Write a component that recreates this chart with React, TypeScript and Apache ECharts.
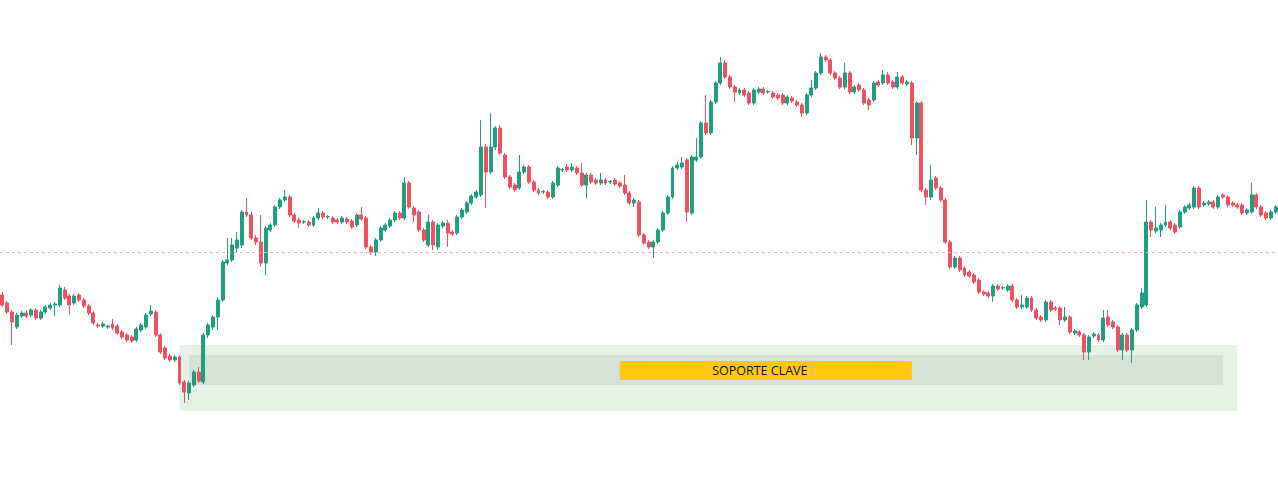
import React, { useEffect, useRef } from "react";
import * as echarts from "echarts";

// Candles as [open, close, low, high] (price index)
const ohlc: number[][] = [
  [205,195,193,208],[197,188,186,199],[188,178,155,190],[173,185,171,187],[184,187,182,189],
  [187,184,182,190],[185,190,183,192],[190,182,180,192],[182,188,180,190],[188,193,186,195],
  [192,195,190,197],[195,196,184,198],[195,212,193,215],[210,202,200,213],[204,195,185,206],
  [197,204,195,206],[205,200,198,207],[200,194,192,202],[194,187,185,196],[187,177,175,189],
  [175,174,172,177],[174,176,172,178],[173,174,171,175],[176,172,170,181],[174,167,165,176],
  [168,163,161,170],[165,160,158,167],[163,159,157,165],[160,171,158,173],[170,175,168,177],
  [173,185,171,187],[186,189,184,195],[188,165,163,190],[165,148,146,167],[152,142,140,154],
  [144,140,138,146],[140,143,138,145],[143,117,115,145],[118,108,97,120],[107,117,100,119],
  [115,128,113,130],[128,119,117,133],[118,165,116,167],[165,175,162,177],[173,183,170,185],
  [183,200,170,203],[200,238,198,240],[237,240,235,262],[240,255,238,262],[252,260,248,268],
  [255,288,252,290],[288,285,283,302],[285,262,260,288],[262,258,255,265],[258,237,233,285],
  [237,272,225,274],[270,275,268,277],[275,293,273,295],[293,300,291,302],[300,303,298,310],
  [303,285,283,305],[285,279,277,287],[280,277,272,282],[278,278.5,276,280],[278,275,273,280],
  [275,282,273,284],[282,287,280,292],[287,283,281,289],[283,283.5,281,285],[282,278,276,284],
  [280,278,276,282],[278,282,276,284],[281,278,276,283],[279,273,271,281],[275,285,273,287],
  [285,281,279,293],[282,253,251,284],[253,248,245,255],[248,260,244,262],[260,272,258,274],
  [270,275,268,277],[274,280,272,282],[280,287,278,289],[287,282,280,289],[282,317,280,323],
  [317,293,291,319],[292,285,278,294],[288,270,268,290],[270,260,258,272],[255,278,253,285],
  [278,255,250,280],[253,275,250,277],[274,277,272,279],[277,267,253,280],[268,266,264,270],
  [267,283,265,285],[283,290,281,292],[288,297,286,299],[297,304,295,306],[303,308,301,310],
  [305,353,303,380],[353,328,292,356],[328,353,326,387],[353,372,350,374],[372,347,345,375],
  [345,323,321,347],[323,313,311,325],[315,310,308,317],[312,328,310,345],[328,333,326,335],
  [333,318,316,335],[318,310,308,320],[310,307,305,312],[308,308.5,306,310],[308,303,301,310],
  [303,317,301,319],[315,332,313,334],[330,330.5,328,332],[333,330,328,336],[330,333,328,337],
  [332,327,325,334],[327,315,313,337],[315,325,302,327],[325,318,316,327],[320,317,315,322],
  [317,320,315,327],[320,317,315,322],[318,318.5,316,320],[320,316,314,322],[317,314,312,319],
  [315,307,305,325],[307,297,295,309],[297,300,293,302],[298,265,263,300],[265,257,255,267],
  [258,253,251,260],[253,258,242,260],[258,270,256,272],[270,287,268,289],[287,303,285,305],
  [303,332,301,334],[332,335,330,338],[333,337,331,343],[340,288,278,342],[287,343,285,345],
  [340,343,338,362],[343,377,341,379],[377,367,365,405],[367,398,365,400],[398,417,396,419],
  [417,437,415,443],[437,423,421,440],[423,413,411,425],[413,408,398,415],[407,410,405,412],
  [410,405,403,412],[407,397,395,409],[397,410,395,412],[408,411,406,413],[411,407,405,413],
  [408,408.5,406,410],[407,403,401,409],[405,402,400,407],[405,397,395,407],[397,403,395,405],
  [402,399,397,404],[398,395,393,400],[395,387,383,397],[387,405,385,407],[405,412,403,420],
  [412,427,410,429],[427,443,425,447],[443,440,438,445],[440,427,425,442],[427,422,420,429],
  [422,413,411,424],[413,427,411,437],[427,408,406,429],[408,413,406,415],[415,410,408,417],
  [410,397,395,412],[400,395,390,402],[400,417,398,419],[418,415,413,420],[417,425,415,430],
  [425,417,415,428],[418,413,411,420],[413,423,411,428],[423,417,415,425],[416,418,414,420],
  [417,362,355,419],[362,397,345,399],[397,310,308,399],[310,303,295,312],[303,320,300,335],
  [322,312,310,324],[312,300,298,314],[300,258,256,302],[258,233,231,260],[233,242,231,244],
  [242,230,228,244],[232,225,223,234],[228,224,222,230],[225,218,216,227],[220,208,206,222],
  [208,206,204,210],[207,204,202,209],[204,214,198,216],[214,211,209,216],[212,212.5,210,214],
  [210,214,208,216],[214,200,198,216],[200,193,191,202],[193,195,191,205],[193,202,191,204],
  [202,190,188,204],[190,182,180,192],[183,180,178,185],[180,198,178,200],[198,190,188,200],
  [192,191,189,194],[192,180,175,194],[180,183,178,193],[183,168,166,185],[167,169,165,171],
  [168,165,163,170],[165,148,140,167],[148,163,140,165],[164,166,162,168],[165,160,158,167],
  [160,182,158,190],[183,175,173,190],[178,173,171,180],[173,150,148,175],[150,165,140,167],
  [165,150,148,167],[150,170,137,172],[170,195,168,197],[193,207,191,212],[195,278,193,300],
  [278,270,263,280],[269,272,267,293],[270,275,263,277],[275,278,273,295],[278,272,270,280],
  [275,268,266,277],[273,288,271,290],[288,293,286,295],[292,295,290,297],[293,312,291,314],
  [312,293,291,314],[295,297,293,299],[296,298,294,300],[298,293,291,300],[293,303,291,305],
  [305,303,301,307],[303,295,293,305],[297,295,293,299],[295,293,291,297],[295,287,285,297],
  [287,290,285,292],[288,305,286,317],[305,293,291,307],[293,285,283,295],[287,282,280,289],
  [282,288,280,290],[288,293,286,295],
];

const categories: string[] = ohlc.map((_, i) => `D${i + 1}`);

// Reference (dashed) price level
const refLevel = 248;
// Support zone: [startIndex, endIndex, lowPrice, highPrice]
const outerZone = [37, 258, 89, 155];
const innerZone = [39, 255, 115, 145];
const labelZone = [129, 190, 120, 139];
const labelText = "SOPORTE CLAVE";

const UP = "#1f9e80";
const DOWN = "#ef5160";

export default function App() {
  const ref = useRef<HTMLDivElement>(null);
  useEffect(() => {
    if (!ref.current) return;
    const chart = echarts.init(ref.current, undefined, { renderer: "svg" });
    chart.setOption({
      animation: false,
      backgroundColor: "#ffffff",
      grid: { left: 0, right: 0, top: 0, bottom: 0 },
      xAxis: {
        type: "category",
        data: categories,
        boundaryGap: true,
        show: false,
      },
      yAxis: {
        type: "value",
        min: 3,
        max: 500,
        show: false,
        splitLine: { show: false },
      },
      series: [
        {
          type: "candlestick",
          data: ohlc,
          barWidth: "72%",
          itemStyle: {
            color: UP,
            color0: DOWN,
            borderColor: UP,
            borderColor0: DOWN,
            borderWidth: 1,
          },
          markLine: {
            silent: true,
            symbol: "none",
            label: { show: false },
            lineStyle: { color: "#f6aab1", type: [3, 3], width: 1 },
            data: [{ yAxis: refLevel }],
          },
          markArea: {
            silent: true,
            data: [
              [
                { xAxis: outerZone[0], yAxis: outerZone[2], itemStyle: { color: "#e6f2e6", opacity: 1 } },
                { xAxis: outerZone[1], yAxis: outerZone[3] },
              ],
              [
                { xAxis: innerZone[0], yAxis: innerZone[2], itemStyle: { color: "#d4e2d7", opacity: 1 } },
                { xAxis: innerZone[1], yAxis: innerZone[3] },
              ],
              [
                {
                  xAxis: labelZone[0],
                  yAxis: labelZone[2],
                  itemStyle: { color: "#fec80f", opacity: 1 },
                  label: {
                    show: true,
                    position: "inside",
                    formatter: labelText,
                    color: "#111111",
                    fontSize: 12.5,
                    fontFamily: "Open Sans",
                    offset: [-6, 0],
                  },
                },
                { xAxis: labelZone[1], yAxis: labelZone[3] },
              ],
            ],
          },
        },
      ],
    });
    return () => chart.dispose();
  }, []);
  return (
    <div
      ref={ref}
      style={{ position: "fixed", left: 0, top: 0, width: 1278, height: 497, background: "#fff" }}
    />
  );
}
